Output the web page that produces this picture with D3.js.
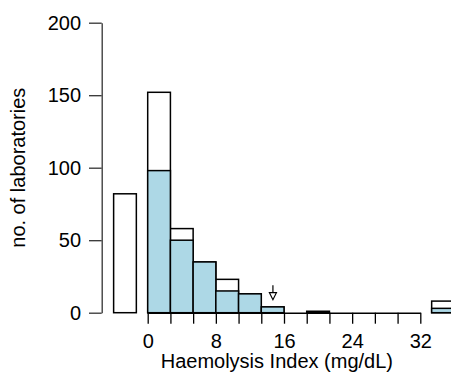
<!DOCTYPE html>
<html>
<head>
<meta charset="utf-8">
<script src="https://cdn.jsdelivr.net/npm/d3@7"></script>
<style>
  html, body { margin: 0; padding: 0; background: #fff; overflow: hidden; }
  svg { display: block; }
  text { font-family: "Liberation Sans", Arial, sans-serif; fill: #000; }
</style>
</head>
<body>
<svg id="chart" width="451" height="374"></svg>
<script>
// Histogram bins of width 8/3 mg/dL, starting at 0
const binWidth = 8 / 3;
const binStarts = d3.range(12).map(i => i * binWidth);
const totalCounts = [152, 58, 35, 23, 13, 4, 0, 1, 0, 0, 0, 0];
const shadedCounts = [98, 50, 35, 15, 13, 4, 0, 0, 0, 0, 0, 0];

// Extra bars outside the binned range: left (not reported) and right (overflow)
const extraStarts = [-4, 100 / 3];
const extraTotals = [82, 8];
const extraShaded = [0, 3];

const xTicks = d3.range(13).map(i => i * binWidth);
const xTickLabels = [0, 8, 16, 24, 32];
const yTicks = [0, 50, 100, 150, 200];

// Marker arrow (x value, tail and tip heights in counts)
const arrowX = 14.7;
const arrowTail = 19;
const arrowTip = 9;

const svg = d3.select("#chart");
const x = d3.scaleLinear().domain([0, 32]).range([147.7, 420.3]);
const y = d3.scaleLinear().domain([0, 200]).range([312.7, 22.7]);

const bars = binStarts.map((s, i) => ({ start: s, total: totalCounts[i], shaded: shadedCounts[i] }))
  .concat(extraStarts.map((s, i) => ({ start: s, total: extraTotals[i], shaded: extraShaded[i] })));

const g = svg.append("g");

// Outline bars for the totals
g.selectAll("rect.total")
  .data(bars.filter(d => d.total > 0))
  .join("rect")
  .attr("class", "total")
  .attr("x", d => x(d.start))
  .attr("y", d => y(d.total))
  .attr("width", d => x(d.start + binWidth) - x(d.start))
  .attr("height", d => y(0) - y(d.total))
  .attr("fill", "#fff")
  .attr("stroke", "#000")
  .attr("stroke-width", 1.5);

// Shaded bars for the subset
g.selectAll("rect.shaded")
  .data(bars.filter(d => d.shaded > 0))
  .join("rect")
  .attr("class", "shaded")
  .attr("x", d => x(d.start))
  .attr("y", d => y(d.shaded))
  .attr("width", d => x(d.start + binWidth) - x(d.start))
  .attr("height", d => y(0) - y(d.shaded))
  .attr("fill", "#ADD8E6")
  .attr("stroke", "#000")
  .attr("stroke-width", 1.5);

// X axis along the zero line
const xAxis = d3.axisBottom(x)
  .tickValues(xTicks)
  .tickSize(11)
  .tickSizeOuter(0)
  .tickFormat(d => {
    const r = Math.round(d);
    return (Math.abs(d - r) < 1e-6 && xTickLabels.includes(r)) ? r : "";
  });
const gx = svg.append("g")
  .attr("transform", `translate(0,${y(0)})`)
  .call(xAxis);
gx.select(".domain").attr("stroke", "#000").attr("stroke-width", 1.5);
gx.selectAll(".tick line").attr("stroke", "#000").attr("stroke-width", 1.3);
gx.selectAll(".tick text")
  .attr("font-size", 20)
  .attr("font-family", "Liberation Sans, Arial, sans-serif")
  .attr("fill", "#000")
  .attr("dy", null)
  .attr("y", 35.6);

// Y axis
const yAxis = d3.axisLeft(y)
  .tickValues(yTicks)
  .tickSize(12.7)
  .tickSizeOuter(0)
  .tickPadding(8);
const gy = svg.append("g")
  .attr("transform", "translate(101.7,0)")
  .call(yAxis);
gy.select(".domain").attr("stroke", "#333").attr("stroke-width", 1.3);
gy.selectAll(".tick line").attr("stroke", "#333").attr("stroke-width", 1.3);
gy.selectAll(".tick text")
  .attr("font-size", 20)
  .attr("font-family", "Liberation Sans, Arial, sans-serif")
  .attr("fill", "#000");

// Arrow marking a reference value
const ax = x(arrowX);
const tipY = y(arrowTip);
const headTop = tipY - 7;
svg.append("line")
  .attr("x1", ax).attr("x2", ax)
  .attr("y1", y(arrowTail)).attr("y2", headTop)
  .attr("stroke", "#000").attr("stroke-width", 1.2);
svg.append("path")
  .attr("d", `M${ax - 3.5},${headTop}L${ax + 3.5},${headTop}L${ax},${tipY}Z`)
  .attr("fill", "#fff")
  .attr("stroke", "#000")
  .attr("stroke-width", 1.2);

// Axis titles
svg.append("text")
  .attr("x", 160.7)
  .attr("y", 367.7)
  .attr("font-size", 20)
  .text("Haemolysis Index (mg/dL)");

svg.append("text")
  .attr("transform", `translate(25,${(y(0) + y(200)) / 2}) rotate(-90)`)
  .attr("text-anchor", "middle")
  .attr("font-size", 20)
  .text("no. of laboratories");
</script>
</body>
</html>
